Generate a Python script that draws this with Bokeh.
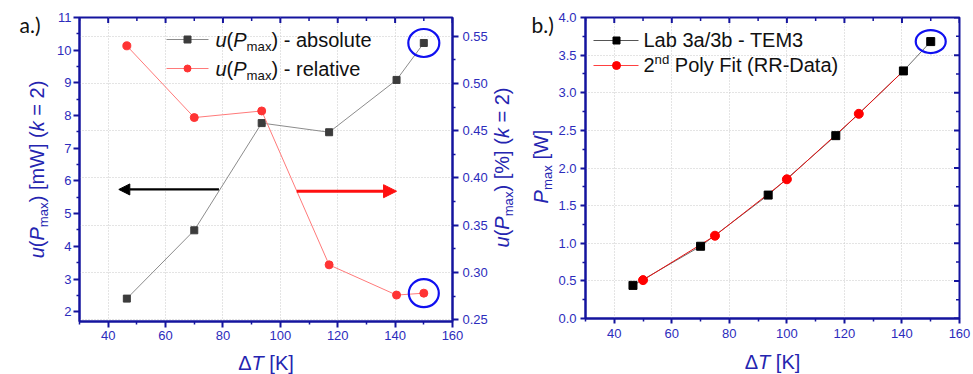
import math
from bokeh.plotting import figure
from bokeh.layouts import row
from bokeh.models import (Range1d, LinearAxis, FixedTicker, Grid, Label, Arrow,
                          NormalHead, NumeralTickFormatter)
from bokeh.embed import file_html
from bokeh.resources import INLINE

# ---------------- data ----------------
dT_a = [46.5, 70.0, 93.5, 117.0, 140.5, 150.0]
u_abs_mW = [2.40, 4.49, 7.77, 7.49, 9.09, 10.22]
u_rel_pct = [0.540, 0.464, 0.471, 0.308, 0.276, 0.278]

dT_b = [46.5, 70.0, 93.5, 117.0, 140.5, 150.0]
pmax_W = [0.44, 0.96, 1.64, 2.43, 3.29, 3.68]
fit_dT = [50.0, 75.0, 100.0, 125.0]
fit_pmax = [0.51, 1.10, 1.85, 2.72]
fit_line_dT = [50.0, 75.0, 100.0, 125.0, 140.5]
fit_line_pmax = [0.51, 1.10, 1.85, 2.72, 3.29]

x_ticks = [40, 60, 80, 100, 120, 140, 160]
x_minor = [30, 50, 70, 90, 110, 130, 150]
ya_ticks = [2, 3, 4, 5, 6, 7, 8, 9, 10, 11]
ya_minor = [2.5, 3.5, 4.5, 5.5, 6.5, 7.5, 8.5, 9.5, 10.5]
yr_ticks = [0.25, 0.30, 0.35, 0.40, 0.45, 0.50, 0.55]
yr_minor = [0.275, 0.325, 0.375, 0.425, 0.475, 0.525]
yb_ticks = [0.0, 0.5, 1.0, 1.5, 2.0, 2.5, 3.0, 3.5, 4.0]
yb_minor = [0.25, 0.75, 1.25, 1.75, 2.25, 2.75, 3.25, 3.75]

# ---------------- style ----------------
FONT = "Liberation Sans"
AXC = "#14149e"
TICKC = "#2c2cbc"
LABC = "#2424b0"
GRIDC = "#c8c8c8"
CIRC = "#1010f0"
SUBR = 0.66
BASE_FIX = 0.33   # observed offset of the alphabetic baseline, in em

ARIAL = {' ': 278, '(': 333, ')': 333, '[': 278, ']': 278, '-': 333, '=': 584,
         '%': 889, '.': 278, '/': 278, 'Δ': 668,
         'a': 556, 'b': 556, 'c': 500, 'd': 556, 'e': 556, 'f': 278, 'g': 556,
         'h': 556, 'i': 222, 'j': 222, 'k': 500, 'l': 222, 'm': 833, 'n': 556,
         'o': 556, 'p': 556, 'q': 556, 'r': 333, 's': 500, 't': 278, 'u': 556,
         'v': 500, 'w': 722, 'x': 500, 'y': 500, 'z': 500,
         'A': 667, 'B': 667, 'D': 722, 'E': 667, 'F': 611, 'K': 667, 'L': 556,
         'M': 833, 'P': 667, 'R': 722, 'T': 611, 'W': 944}


def tw(s, size):
    return sum(ARIAL.get(c, 556) for c in s) * size / 1000.0


def rich(p, pieces, x, y, size, color, rotated=False, anchor="center", panel=None):
    """Place rich text pieces in canvas pixels (origin top-left of the figure).
    Texts outside the frame go to the 'below' side panel (not clipped; the
    extra height they add lies below the visible window)."""
    spec = []
    for t, st in pieces:
        fs = size * SUBR if st in ("sub", "sup") else size
        spec.append((t, st, fs, tw(t, fs)))
    total = sum(s[3] for s in spec)
    pos = -total / 2.0 if anchor == "center" else 0.0
    for t, st, fs, w in spec:
        shift = 0.22 * size if st == "sub" else (-0.40 * size if st == "sup" else 0.0)
        shift -= BASE_FIX * fs
        lead = len(t) - len(t.lstrip(' '))
        off = tw(' ' * lead, fs)
        txt = t.strip(' ')
        if txt:
            if not rotated:
                sx, sy = x + pos + off, y + shift
            else:
                sx, sy = x + shift, y - pos - off
            lab = Label(x=sx, y=sy, x_units="canvas", y_units="canvas", text=txt,
                        text_font=FONT, text_font_size=f"{fs:.1f}px",
                        text_font_style="italic" if st == "i" else "normal",
                        text_color=color, text_baseline="alphabetic",
                        text_align="left",
                        angle=math.pi / 2 if rotated else 0.0)
            if panel is None:
                p.add_layout(lab)
            else:
                p.add_layout(lab, panel)
        pos += w


def style_axis(ax, major=6, minor=3):
    ax.axis_line_color = AXC
    ax.axis_line_width = 2
    ax.major_tick_line_color = AXC
    ax.major_tick_line_width = 2
    ax.minor_tick_line_color = AXC
    ax.minor_tick_line_width = 1.5
    ax.major_tick_out = major
    ax.major_tick_in = 0
    ax.minor_tick_out = minor
    ax.minor_tick_in = 0
    ax.major_label_text_font = FONT
    ax.major_label_text_color = TICKC
    ax.major_label_text_font_size = "13px"
    ax.axis_label = None


def inner_ticks(p, side, ticks, minor, rng_other, px_per_unit):
    """Inward tick marks on the top or right frame edge."""
    for vals, L, wdt in ((ticks, 5.5, 2), (minor, 3.5, 1.5)):
        d = L / px_per_unit
        edge = rng_other[1]
        if side == "top":
            p.segment(x0=vals, y0=[edge] * len(vals), x1=vals, y1=[edge - d] * len(vals),
                      line_color=AXC, line_width=wdt)
        else:
            p.segment(x0=[edge] * len(vals), y0=vals, x1=[edge - d] * len(vals), y1=vals,
                      line_color=AXC, line_width=wdt)


# ================= panel a =================
XR = (30, 160)
YA = (1.7, 11.0)
YR = (0.248, 0.570)
FLa, FWa, FTa, FHa = 79, 373, 17, 304

p1 = figure(frame_width=FWa, frame_height=FHa, x_range=Range1d(*XR), y_range=Range1d(*YA),
            output_backend="svg", toolbar_location=None)
p1.min_border_left = FLa
p1.min_border_right = 38
p1.min_border_top = FTa
p1.min_border_bottom = 53
p1.outline_line_color = AXC
p1.outline_line_width = 2
p1.background_fill_color = "white"
p1.border_fill_color = "white"
p1.extra_y_ranges = {"right": Range1d(*YR)}

xt = FixedTicker(ticks=x_ticks, minor_ticks=x_minor)
p1.xaxis.ticker = xt
style_axis(p1.xaxis[0])
p1.xaxis[0].major_label_standoff = 3
p1.yaxis.ticker = FixedTicker(ticks=ya_ticks, minor_ticks=ya_minor)
style_axis(p1.yaxis[0])
p1.yaxis[0].major_label_standoff = 2

rax = LinearAxis(y_range_name="right", ticker=FixedTicker(ticks=yr_ticks, minor_ticks=yr_minor),
                 formatter=NumeralTickFormatter(format="0.00"))
style_axis(rax)
rax.major_label_standoff = 4
p1.add_layout(rax, "right")

inner_ticks(p1, "top", x_ticks, x_minor, YA, FHa / (YA[1] - YA[0]))

p1.xgrid.ticker = xt
p1.xgrid.grid_line_color = GRIDC
p1.xgrid.grid_line_dash = "1 2"
p1.ygrid.visible = False
p1.add_layout(Grid(dimension=1, y_range_name="right", ticker=rax.ticker,
                   grid_line_color=GRIDC, grid_line_dash="1 2"))

# series
p1.line(dT_a, u_abs_mW, line_color="#8c8c8c", line_width=1)
p1.scatter(dT_a, u_abs_mW, marker="square", size=7, fill_color="#3c3c3c", line_color="#3c3c3c")
p1.line(dT_a, u_rel_pct, y_range_name="right", line_color="#ff7a7a", line_width=1)
p1.scatter(dT_a, u_rel_pct, y_range_name="right", marker="circle", size=8,
           fill_color="#ff3434", line_color="#ff3434")

# highlight circles
p1.ellipse(x=[dT_a[-1]], y=[u_abs_mW[-1]], width=31, height=28, width_units="screen",
           height_units="screen", fill_color=None, line_color=CIRC, line_width=2.2)
p1.ellipse(x=[dT_a[-1]], y=[u_rel_pct[-1]], width=30, height=28, width_units="screen",
           height_units="screen", fill_color=None, line_color=CIRC, line_width=2.2,
           y_range_name="right")

# arrows
p1.add_layout(Arrow(x_start=78.6, y_start=5.74, x_end=43.7, y_end=5.74,
                    line_color="black", line_width=2.2,
                    end=NormalHead(size=11, fill_color="black", line_color="black")))
p1.add_layout(Arrow(x_start=105.7, y_start=0.386, x_end=140.5, y_end=0.386,
                    y_range_name="right", line_color="#ff1010", line_width=3,
                    end=NormalHead(size=13, fill_color="#ff1010", line_color="#ff1010")))


def px_a(px, py):
    return (XR[0] + (px - FLa) / FWa * (XR[1] - XR[0]),
            YA[1] - (py - FTa) / FHa * (YA[1] - YA[0]))


# legend a
for (ly, lc, mc, mk) in [(39, "#8c8c8c", "#3c3c3c", "square"), (68, "#ff7a7a", "#ff3434", "circle")]:
    x0, yy = px_a(166, ly)
    x1, _ = px_a(208, ly)
    xm, _ = px_a(187, ly)
    p1.line([x0, x1], [yy, yy], line_color=lc, line_width=1)
    p1.scatter([xm], [yy], marker=mk, size=7, fill_color=mc, line_color=mc)
rich(p1, [("u", "i"), ("(", "n"), ("P", "i"), ("max", "sub"), (") - absolute", "n")],
     215, 46, 20, "#111111", anchor="left")
rich(p1, [("u", "i"), ("(", "n"), ("P", "i"), ("max", "sub"), (") - relative", "n")],
     215, 75, 20, "#111111", anchor="left")

# axis titles a
rich(p1, [("u", "i"), ("(", "n"), ("P", "i"), ("max", "sub"), (") [mW] (", "n"),
          ("k", "i"), (" = 2)", "n")], 43, 169, 20, LABC, rotated=True, panel="below")
rich(p1, [("Δ", "n"), ("T", "i"), (" [K]", "n")], 265.5, 369, 20, LABC, panel="below")

p1.add_layout(Label(x=19, y=24, x_units="canvas", y_units="canvas", text="a.)",
                    text_font="Lato", text_font_size="21px", text_color="#111111",
                    text_baseline="middle", text_align="left"), "below")

# ================= panel b =================
YB = (0.0, 4.0)
FLb, FWb, FTb, FHb = 95, 374, 16, 301

p2 = figure(frame_width=FWb, frame_height=FHb, x_range=Range1d(*XR), y_range=Range1d(*YB),
            output_backend="svg", toolbar_location=None)
p2.min_border_left = FLb
p2.min_border_right = 14
p2.min_border_top = FTb
p2.min_border_bottom = 57
p2.outline_line_color = AXC
p2.outline_line_width = 2
p2.background_fill_color = "white"
p2.border_fill_color = "white"

xt2 = FixedTicker(ticks=x_ticks, minor_ticks=x_minor)
p2.xaxis.ticker = xt2
style_axis(p2.xaxis[0], major=5)
p2.xaxis[0].major_label_standoff = 5
yt2 = FixedTicker(ticks=yb_ticks, minor_ticks=yb_minor)
p2.yaxis.ticker = yt2
p2.yaxis.formatter = NumeralTickFormatter(format="0.0")
style_axis(p2.yaxis[0], major=5)
p2.yaxis[0].major_label_standoff = 4

inner_ticks(p2, "top", x_ticks, x_minor, YB, FHb / (YB[1] - YB[0]))
inner_ticks(p2, "right", yb_ticks, yb_minor, XR, FWb / (XR[1] - XR[0]))

p2.xgrid.ticker = xt2
p2.ygrid.ticker = yt2
for g in (p2.xgrid[0], p2.ygrid[0]):
    g.grid_line_color = GRIDC
    g.grid_line_dash = "1 2"

p2.line(dT_b, pmax_W, line_color="#6e6e6e", line_width=1)
p2.line(fit_line_dT, fit_line_pmax, line_color="#e81010", line_width=1)
p2.scatter(dT_b, pmax_W, marker="square", size=8, fill_color="black", line_color="black")
p2.scatter(fit_dT, fit_pmax, marker="circle", size=9, fill_color="#ff0000", line_color="#ff0000")
p2.ellipse(x=[dT_b[-1]], y=[pmax_W[-1]], width=30, height=23, width_units="screen",
           height_units="screen", fill_color=None, line_color=CIRC, line_width=2.2)


def px_b(px, py):
    return (XR[0] + (px - FLb) / FWb * (XR[1] - XR[0]),
            YB[1] - (py - FTb) / FHb * (YB[1] - YB[0]))


for (ly, lc, mc, mk, ms) in [(39, "#555555", "black", "square", 7), (64, "#ff4040", "#ff0000", "circle", 8)]:
    x0, yy = px_b(103, ly)
    x1, _ = px_b(148, ly)
    xm, _ = px_b(126, ly)
    p2.line([x0, x1], [yy, yy], line_color=lc, line_width=1)
    p2.scatter([xm], [yy], marker=mk, size=ms, fill_color=mc, line_color=mc)
rich(p2, [("Lab 3a/3b - TEM3", "n")], 153, 46, 20, "#111111", anchor="left")
rich(p2, [("2", "n"), ("nd", "sup"), (" Poly Fit (RR-Data)", "n")], 153, 71, 20,
     "#111111", anchor="left")

# axis titles b (the first one belongs to the right axis of panel a)
rich(p2, [("u", "i"), ("(", "n"), ("P", "i"), ("max", "sub"), (") [%] (", "n"),
          ("k", "i"), (" = 2)", "n")], 18, 167, 20, LABC, rotated=True, panel="below")
rich(p2, [("P", "i"), ("max", "sub"), (" [W]", "n")], 57, 166, 20, LABC, rotated=True,
     panel="below")
rich(p2, [("Δ", "n"), ("T", "i"), (" [K]", "n")], 282, 368, 20, LABC, panel="below")

p2.add_layout(Label(x=41, y=24, x_units="canvas", y_units="canvas", text="b.)",
                    text_font="Lato", text_font_size="21px", text_color="#111111",
                    text_baseline="middle", text_align="left"), "below")

layout = row(p1, p2)
open("out.html", "w").write(file_html(layout, INLINE))
